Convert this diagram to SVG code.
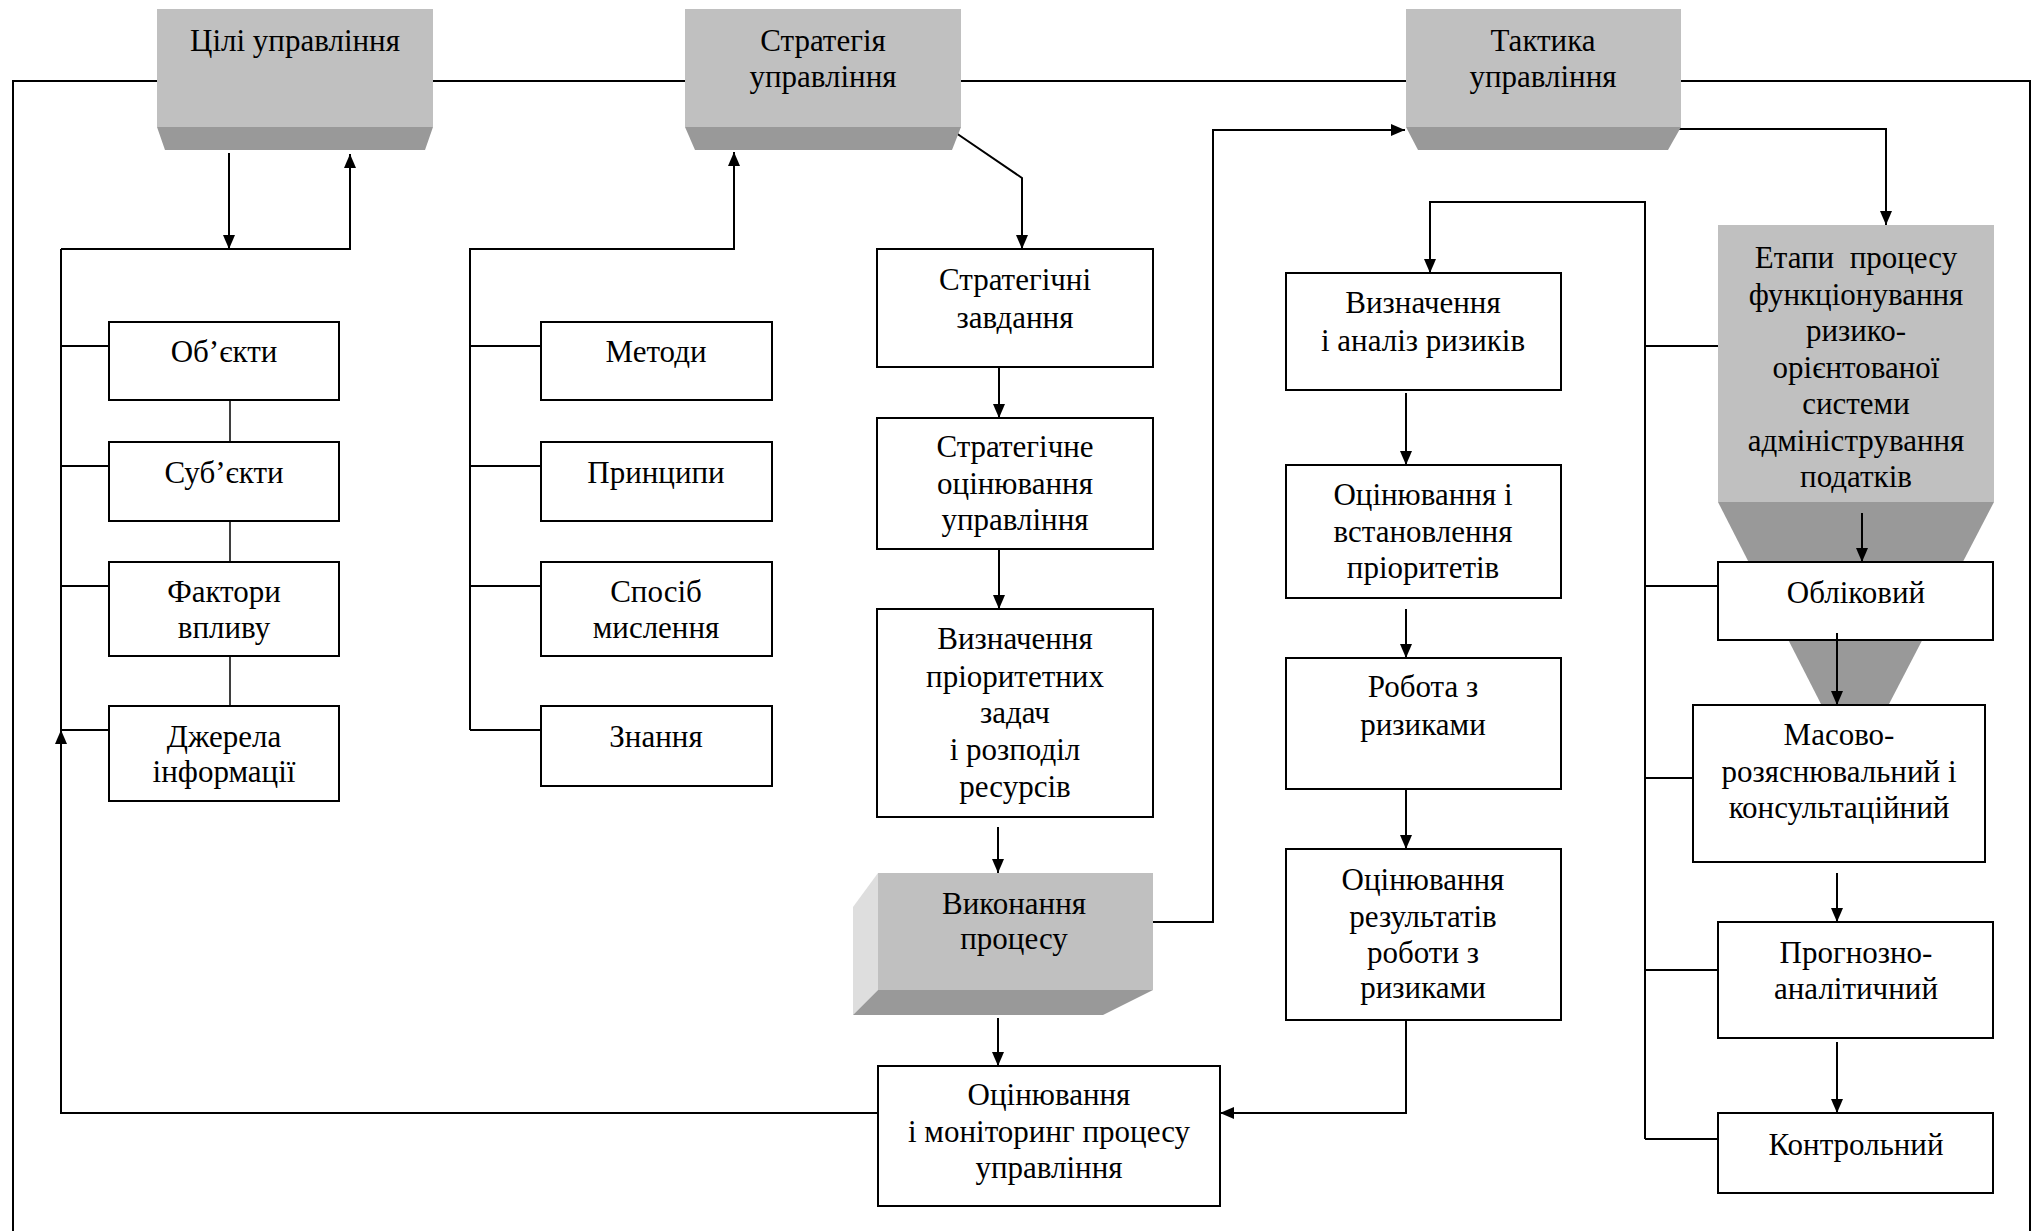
<svg xmlns="http://www.w3.org/2000/svg" width="2038" height="1231" viewBox="0 0 2038 1231">
  <style>
    .lbl text { font-family: "Liberation Serif", "DejaVu Serif", serif; font-size: 31px; fill: #000; text-anchor: middle; }
    .box { fill: #fff; stroke: #000; stroke-width: 2; }
    .face { fill: #c0c0c0; }
    .bevel { fill: #999999; }
    .side { fill: #dedede; }
    .ln { fill: none; stroke: #000; stroke-width: 2; }
    .thin { fill: none; stroke: #000; stroke-width: 1.5; }
    .arr { fill: none; stroke: #000; stroke-width: 2; marker-end: url(#ah); }
  </style>
  <defs>
    <marker id="ah" markerUnits="userSpaceOnUse" markerWidth="14" markerHeight="12" refX="14" refY="6" orient="auto">
      <path d="M0,0 L14,6 L0,12 z" fill="#000"/>
    </marker>
  </defs>
  <rect width="2038" height="1231" fill="#fff"/>

  <!-- connectors -->
  <g id="connectors">
    <!-- outer frame -->
    <path class="ln" d="M13,1231 V81 H2030 V1231"/>
    <!-- goals block -->
    <path class="arr" d="M229,153 V249"/>
    <path class="arr" d="M61,249 H350 V154"/>
    <path class="ln" d="M61,249 V730"/>
    <path class="ln" d="M61,346 H109 M61,466 H109 M61,586 H109 M61,730 H109"/>
    <path class="thin" d="M230,400 V442 M230,521 V562 M230,656 V706"/>
    <path class="arr" d="M878,1113 H61 V730"/>
    <!-- strategy block -->
    <path class="arr" d="M470,730 V249 H734 V152"/>
    <path class="ln" d="M470,346 H541 M470,466 H541 M470,586 H541 M470,730 H541"/>
    <path class="arr" d="M956,133 L1022,178 V249"/>
    <path class="arr" d="M999,367 V418"/>
    <path class="arr" d="M999,540 V609"/>
    <path class="arr" d="M998,827 V873"/>
    <path class="arr" d="M998,1018 V1066"/>
    <!-- tactics block -->
    <path class="arr" d="M1142,922 H1213 V130 H1405"/>
    <path class="arr" d="M1406,393 V465"/>
    <path class="arr" d="M1406,609 V658"/>
    <path class="arr" d="M1406,778 V849"/>
    <path class="arr" d="M1406,1020 V1113 H1220"/>
    <path class="arr" d="M1645,1139 V202 H1430 V273"/>
    <path class="ln" d="M1645,346 H1718 M1645,586 H1718 M1645,778 H1693 M1645,970 H1718 M1645,1139 H1718"/>
    <path class="arr" d="M1679,129 H1886 V225"/>
  </g>

  <g class="lbl" font-family="Liberation Serif, DejaVu Serif, serif">
  <!-- top level gray blocks -->
  <g id="goals">
    <rect class="face" x="157" y="9" width="276" height="118"/>
    <polygon class="bevel" points="157,127 433,127 425,150 165,150"/>
    <text x="295" y="51">Цілі управління</text>
  </g>
  <g id="strategy">
    <rect class="face" x="685" y="9" width="276" height="118"/>
    <polygon class="bevel" points="685,127 961,127 952,150 695,150"/>
    <text x="823" y="51">Стратегія</text>
    <text x="823" y="87">управління</text>
  </g>
  <g id="tactics">
    <rect class="face" x="1406" y="9" width="275" height="118"/>
    <polygon class="bevel" points="1406,127 1681,127 1668,150 1418,150"/>
    <text x="1543" y="51">Тактика</text>
    <text x="1543" y="87">управління</text>
  </g>

  <!-- goals column -->
  <g id="objects"><rect class="box" x="109" y="322" width="230" height="78"/><text x="224" y="362">Об’єкти</text></g>
  <g id="subjects"><rect class="box" x="109" y="442" width="230" height="79"/><text x="224" y="483">Суб’єкти</text></g>
  <g id="factors"><rect class="box" x="109" y="562" width="230" height="94"/><text x="224" y="602">Фактори</text><text x="224" y="638">впливу</text></g>
  <g id="sources"><rect class="box" x="109" y="706" width="230" height="95"/><text x="224" y="747">Джерела</text><text x="224" y="782">інформації</text></g>

  <!-- strategy components -->
  <g id="methods"><rect class="box" x="541" y="322" width="231" height="78"/><text x="656" y="362">Методи</text></g>
  <g id="principles"><rect class="box" x="541" y="442" width="231" height="79"/><text x="656" y="483">Принципи</text></g>
  <g id="mindset"><rect class="box" x="541" y="562" width="231" height="94"/><text x="656" y="602">Спосіб</text><text x="656" y="638">мислення</text></g>
  <g id="knowledge"><rect class="box" x="541" y="706" width="231" height="80"/><text x="656" y="747">Знання</text></g>

  <!-- strategy chain -->
  <g id="strategic-tasks"><rect class="box" x="877" y="249" width="276" height="118"/><text x="1015" y="290">Стратегічні</text><text x="1015" y="328">завдання</text></g>
  <g id="strategic-evaluation"><rect class="box" x="877" y="418" width="276" height="131"/><text x="1015" y="457">Стратегічне</text><text x="1015" y="494">оцінювання</text><text x="1015" y="530">управління</text></g>
  <g id="priorities"><rect class="box" x="877" y="609" width="276" height="208"/><text x="1015" y="649">Визначення</text><text x="1015" y="687">пріоритетних</text><text x="1015" y="723">задач</text><text x="1015" y="760"> і розподіл</text><text x="1015" y="797">ресурсів</text></g>
  <g id="execution">
    <polygon class="side" points="853,907 878,873 878,990 853,1015"/>
    <rect class="face" x="878" y="873" width="275" height="117"/>
    <polygon class="bevel" points="878,990 1153,990 1103,1015 853,1015"/>
    <text x="1014" y="914">Виконання</text>
    <text x="1014" y="949">процесу</text>
  </g>
  <g id="monitoring"><rect class="box" x="878" y="1066" width="342" height="140"/><text x="1049" y="1105">Оцінювання</text><text x="1049" y="1142">і моніторинг процесу</text><text x="1049" y="1178">управління</text></g>

  <!-- risk chain -->
  <g id="risk-identification"><rect class="box" x="1286" y="273" width="275" height="117"/><text x="1423" y="313">Визначення</text><text x="1423" y="351">і аналіз ризиків</text></g>
  <g id="risk-assessment"><rect class="box" x="1286" y="465" width="275" height="133"/><text x="1423" y="505">Оцінювання і</text><text x="1423" y="542">встановлення</text><text x="1423" y="578">пріоритетів</text></g>
  <g id="risk-work"><rect class="box" x="1286" y="658" width="275" height="131"/><text x="1423" y="697">Робота з</text><text x="1423" y="735">ризиками</text></g>
  <g id="risk-results"><rect class="box" x="1286" y="849" width="275" height="171"/><text x="1423" y="890">Оцінювання</text><text x="1423" y="927">результатів</text><text x="1423" y="963">роботи з</text><text x="1423" y="998">ризиками</text></g>

  <!-- stages -->
  <g id="stages">
    <polygon class="bevel" points="1718,502 1994,502 1888,706 1822,706"/>
    <rect class="face" x="1718" y="225" width="276" height="277"/>
    <text x="1856" y="268" xml:space="preserve">Етапи  процесу</text>
    <text x="1856" y="305">функціонування</text>
    <text x="1856" y="341">ризико-</text>
    <text x="1856" y="378">орієнтованої</text>
    <text x="1856" y="414">системи</text>
    <text x="1856" y="451">адміністрування</text>
    <text x="1856" y="487">податків</text>
  </g>
  <path class="arr" d="M1862,513 V562"/>
  <g id="accounting"><rect class="box" x="1718" y="562" width="275" height="78"/><text x="1856" y="603">Обліковий</text></g>
  <path class="arr" d="M1837,633 V705"/>
  <g id="explanatory"><rect class="box" x="1693" y="705" width="292" height="157"/><text x="1839" y="745">Масово-</text><text x="1839" y="782">розяснювальний і</text><text x="1839" y="818">консультаційний</text></g>
  <path class="arr" d="M1837,873 V922"/>
  <g id="forecasting"><rect class="box" x="1718" y="922" width="275" height="116"/><text x="1856" y="963">Прогнозно-</text><text x="1856" y="999">аналітичний</text></g>
  <path class="arr" d="M1837,1042 V1113"/>
  <g id="control"><rect class="box" x="1718" y="1113" width="275" height="80"/><text x="1856" y="1155">Контрольний</text></g>
  </g>
</svg>
